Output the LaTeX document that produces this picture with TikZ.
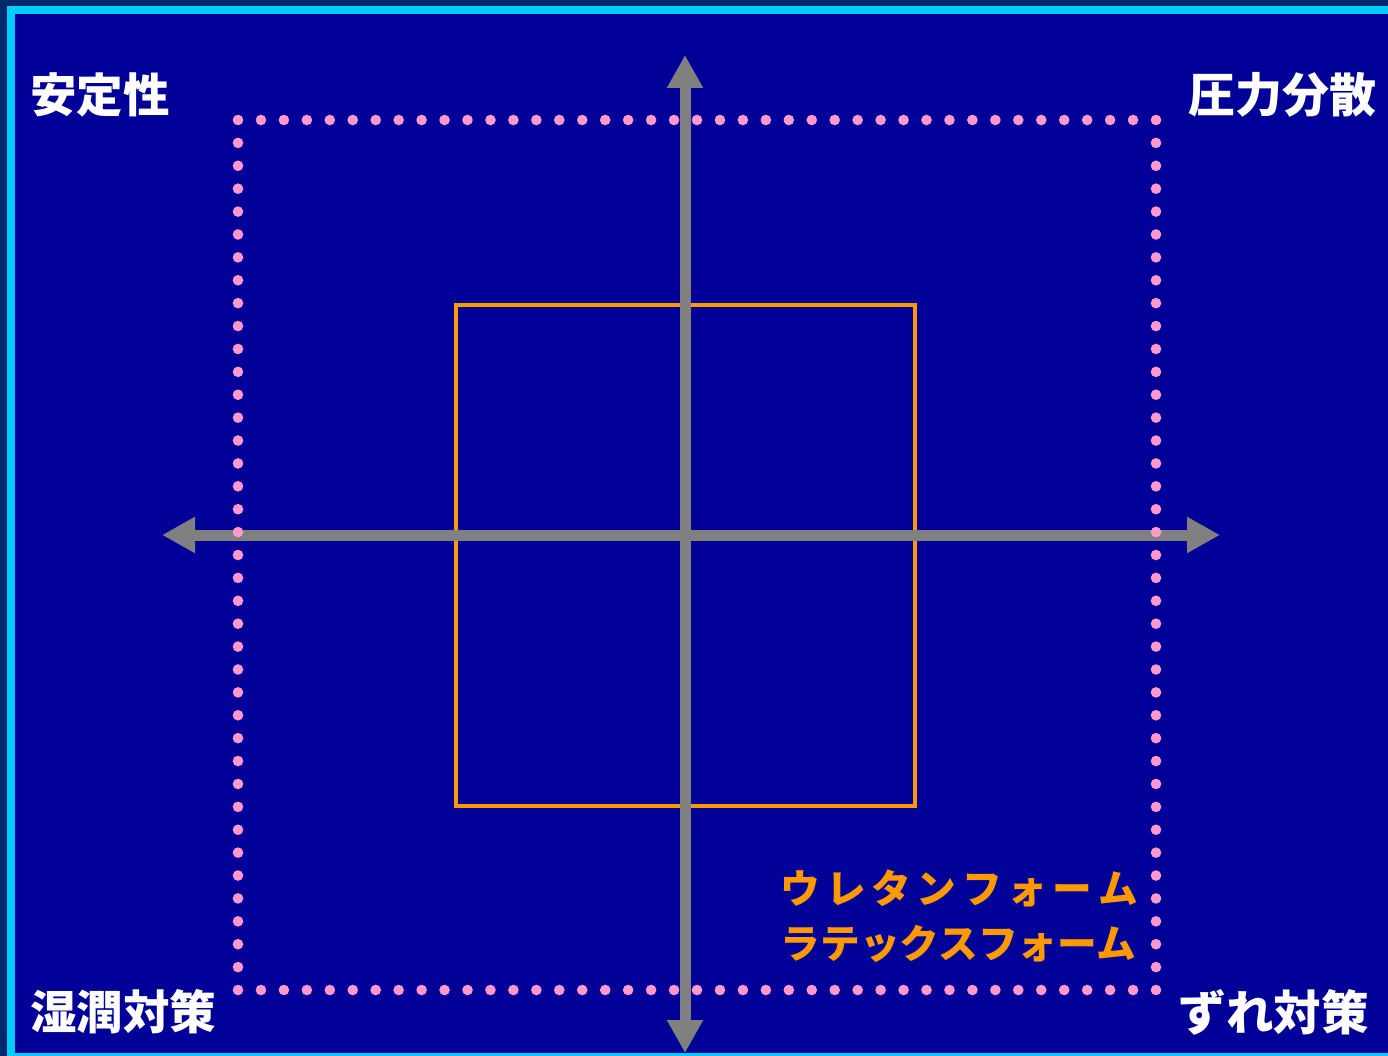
\documentclass[tikz,border=0pt]{standalone}
\usepackage{fontspec}
\usetikzlibrary{arrows.meta}
\newfontfamily\jp{Noto Sans CJK JP}
\definecolor{navyedge}{HTML}{00296B}
\definecolor{cyanband}{HTML}{00CCFF}
\definecolor{bgblue}{HTML}{000099}
\definecolor{axisgray}{HTML}{808080}
\definecolor{dotpink}{HTML}{FF99CC}
\definecolor{orangeline}{HTML}{FF9900}
\tikzset{
  axisline/.style={line width=11pt, draw=axisgray,
    {Triangle[width=34pt,length=33pt]}-{Triangle[width=34pt,length=33pt]}},
  orangebox/.style={draw=orangeline, line width=4.5pt},
  pinkdot/.style={fill=dotpink},
  cornerlabel/.style={text=white, inner sep=0pt},
  legendlabel/.style={text=orangeline, font=\jp\bfseries\fontsize{39.7}{44}\selectfont, inner sep=0pt, anchor=east}
}
\begin{document}
\begin{tikzpicture}[x=1pt,y=-1pt]
\useasboundingbox (0,0) rectangle (1388,1056);
\fill[navyedge] (0,0) rectangle (1388,1056);
\fill[cyanband] (7,6) rectangle (1388,1056);
\fill[bgblue] (15,14) rectangle (1388,1053);
% orange box
\draw[orangebox] (456,305) rectangle (915,806);
% axes
\coordinate (vt) at (685,55);
\coordinate (vb) at (685,1053);
\coordinate (hl) at (162,535);
\coordinate (hr) at (1220,535);
\draw[axisline] (vb) -- (vt);
\draw[axisline] (hl) -- (hr);
% dotted pink frame
\foreach \i in {0,...,40} {
  \fill[pinkdot] ({238+\i*22.95},120) circle (5.3pt);
  \fill[pinkdot] ({238+\i*22.95},990) circle (5.3pt);
}
\foreach \j in {1,...,37} {
  \fill[pinkdot] (238,{120+\j*22.895}) circle (5.3pt);
  \fill[pinkdot] (1156,{120+\j*22.895}) circle (5.3pt);
}
% corner labels
\node[cornerlabel, anchor=west, font=\jp\bfseries\fontsize{46.5}{50}\selectfont] (tl) at (30,95) {安定性};
\node[cornerlabel, anchor=east, font=\jp\bfseries\fontsize{47}{50}\selectfont] (tr) at (1377,95) {圧力分散};
\node[cornerlabel, anchor=west, font=\jp\bfseries\fontsize{46.5}{50}\selectfont] (bl) at (30,1012) {湿潤対策};
\node[cornerlabel, anchor=east, font=\jp\bfseries\fontsize{47.5}{50}\selectfont] (br) at (1369,1012) {ずれ対策};
% legend
\node[legendlabel] (l1) at (1138,888) {\makebox[357pt][s]{ウ\hfill レ\hfill タ\hfill ン\hfill フ\hfill ォ\hfill ー\hfill ム}};
\node[legendlabel] (l2) at (1138,944) {\makebox[357pt][s]{ラテックスフォーム}};
\end{tikzpicture}
\end{document}
